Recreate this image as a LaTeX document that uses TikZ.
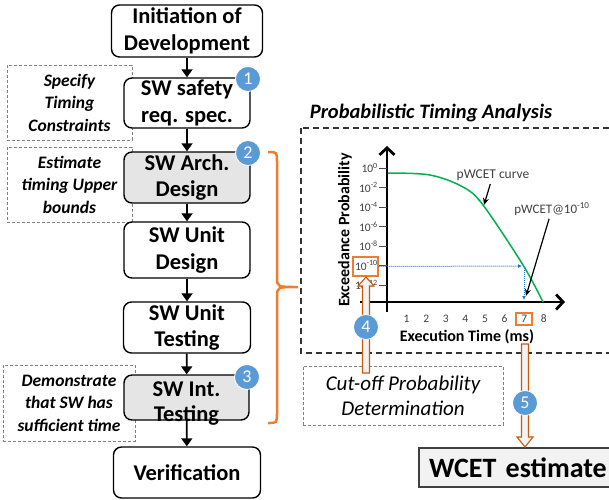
\documentclass[tikz,border=0pt]{standalone}
\usepackage{fontspec}
\setmainfont{Carlito}
\usetikzlibrary{arrows.meta}

\definecolor{badgeblue}{RGB}{91,155,213}
\definecolor{braceorange}{RGB}{237,125,49}
\definecolor{darkorange}{RGB}{197,90,17}
\definecolor{curvegreen}{RGB}{0,176,80}
\definecolor{dotblue}{RGB}{46,117,182}

\tikzset{
    phase/.style={draw=black, line width=1.4pt, rounded corners=8pt, fill=white, align=center, inner sep=0pt,
        font=\bfseries\fontsize{22.5}{26.5}\selectfont},
    phasegray/.style={phase, fill=black!10},
    task/.style={draw=gray, densely dashed, line width=0.7pt, align=center, inner sep=0pt,
        font=\bfseries\itshape\fontsize{17.5}{22.5}\selectfont},
    badge/.style={circle, fill=badgeblue, draw=white, line width=0.8pt, minimum size=25pt, inner sep=0pt,
        text=white, font=\fontsize{18}{18}\selectfont},
    flow/.style={-{Triangle[length=8pt,width=11pt]}, line width=1.8pt},
    ticklab/.style={font=\fontsize{11.5}{12}\selectfont, text=black!75, inner sep=1pt},
    hilite/.style={draw=braceorange, line width=1.2pt, inner sep=0pt},
    blockarrow/.style={draw=darkorange, fill=black!5, line width=1.1pt},
    pointer/.style={-{Stealth[length=7pt,width=6pt]}, line width=1.2pt},
    axis/.style={line width=2.8pt, -{Straight Barb[length=7pt,width=15pt]}},
}

\begin{document}
\begin{tikzpicture}[x=1pt, y=-1pt]

    % fix the frame
    \useasboundingbox (0,0) rectangle (609,499);
    \clip (0,0) rectangle (609,499);

    %% development flow
    \begin{scope}
        %%%%%%%%%%%%%%%%%%%%%%%%%%
        % timing tasks
        %%%%%%%%%%%%%%%%%%%%%%%%%%
        \node [task, minimum width=125pt, minimum height=75pt] (spec) at (69.5,102.5) {Specify\\Timing\\Constraints};
        \node [task, minimum width=125pt, minimum height=75pt] (est) at (69.5,184.5) {Estimate\\timing Upper\\bounds};
        \node [task, minimum width=132pt, minimum height=76pt] (demo) at (69,403) {Demonstrate\\that SW has\\sufficient time};

        %%%%%%%%%%%%%%%%%%%%%%%%%%
        % phases
        %%%%%%%%%%%%%%%%%%%%%%%%%%
        \node [phase, minimum width=151pt, minimum height=52pt] (init) at (187,31) {Initiation of\\Development};
        \node [phase, minimum width=126pt, minimum height=50pt] (req) at (187,103) {SW safety\\req. spec.};
        \node [phasegray, minimum width=126pt, minimum height=51pt] (arch) at (187,177.5) {SW Arch.\\Design};
        \node [phase, minimum width=126pt, minimum height=56pt] (udes) at (187,250) {SW Unit\\Design};
        \node [phase, minimum width=127pt, minimum height=51pt] (utest) at (187,327.5) {SW Unit\\Testing};
        \node [phasegray, minimum width=125pt, minimum height=45pt] (itest) at (186.5,397.5) {};
        \node [font=\bfseries\fontsize{22.5}{25}\selectfont, align=center, inner sep=0pt] (itestlab) at (186.5,404) {SW Int.\\Testing};
        \node [phase, minimum width=147pt, minimum height=51pt] (verif) at (187,472.5) {Verification};

        \draw [flow] (init) -- (req);
        \draw [flow] (req) -- (arch);
        \draw [flow] (arch) -- (udes);
        \draw [flow] (udes) -- (utest);
        \draw [flow] (utest) -- (itest);
        \draw [flow] (itest) -- (verif);

        % numbered steps
        \node [badge] (b1) at (248,79) {1};
        \node [badge] (b2) at (248,153) {2};
        \node [badge] (b3) at (247,377) {3};

        % brace
        \draw [braceorange, line width=2.5pt] (268,152) .. controls (277,152) .. (277,162) -- (277,277)
            .. controls (277,287) .. (298,287) .. controls (277,287) .. (277,297) -- (277,413)
            .. controls (277,423) .. (268,423);
    \end{scope}

    %% probabilistic analysis
    \begin{scope}
        \draw [dashed, dash pattern=on 6pt off 4pt, line width=1.2pt, black!80] (301,128) rectangle (620,353);
        \node [font=\bfseries\itshape\fontsize{20.5}{22}\selectfont] (title) at (431,113) {Probabilistic Timing Analysis};

        % draw axis
        \draw [axis] (387,312) -- (387,146);
        \draw [axis] (360,302) -- (565,302);

        \foreach \k/\e in {0/0,1/-2,2/-4,3/-6,4/-8,5/-10,6/-12} {
            \draw [line width=1pt, black!70] (379,168+19.5*\k) -- (387,168+19.5*\k);
            \node [ticklab, anchor=east] at (379,168+19.5*\k) {10\textsuperscript{\e}};
        }
        \foreach \i in {1,...,8} {
            \node [ticklab] at (387+19.6*\i,319) {\i};
        }
        \node [rotate=90, font=\bfseries\fontsize{16}{17}\selectfont] (ylab) at (345,230) {Exceedance Probability};
        \node [font=\bfseries\fontsize{16}{17}\selectfont] (xlab) at (467,337) {Execution Time (ms)};

        % pWCET curve
        \draw [curvegreen, line width=1.5pt] plot [smooth, tension=0.55] coordinates
            {(388,173) (430,175) (463,187) (483,205) (523,265) (543,302)};

        % cut-off marks
        \node [hilite, minimum width=25pt, minimum height=19pt] (cutbox) at (365.5,266.5) {};
        \node [hilite, minimum width=16pt, minimum height=12pt] (sevenbox) at (524,319) {};
        \coordinate (hit) at (522,266);
        \coordinate (hitdown) at (524,300);
        \draw [dotblue, densely dotted, line width=1pt, -{Latex[length=4pt,width=4pt]}] (cutbox.east) -- (hit);
        \draw [dotblue, densely dotted, line width=1pt, -{Latex[length=4pt,width=4pt]}] (524,268) -- (hitdown);

        % labels
        \node [font=\fontsize{13.5}{14}\selectfont, text=black!75] (curvelab) at (493,175) {pWCET curve};
        \node [font=\fontsize{13}{14}\selectfont, text=black!75] (wcetlab) at (552,209) {pWCET@10\textsuperscript{-10}};
        \coordinate (knee) at (484,205);
        \coordinate (wcetpt) at (526,296);
        \draw [pointer] (curvelab) -- (knee);
        \draw [pointer] (wcetlab) -- (wcetpt);
    \end{scope}

    %% cut-off and estimate
    \begin{scope}
        \node [draw=gray, densely dashed, line width=0.7pt, align=center, inner sep=0pt,
            minimum width=200pt, minimum height=59pt, font=\itshape\fontsize{21}{25}\selectfont]
            (cutoff) at (403,395.5) {Cut-off Probability\\Determination};
        \node [draw=black!75, fill=black!5, line width=1.3pt, minimum width=200pt, minimum height=39pt,
            text width=180pt, inner xsep=10pt, align=left, font=\bfseries\fontsize{28}{30}\selectfont]
            (wcet) at (519,467.5) {WCET estimate};

        % block arrows
        \draw [blockarrow] (362.5,373) -- (362.5,286) -- (358,286) -- (366,277) -- (374,286)
            -- (369.5,286) -- (369.5,373) -- cycle;
        \draw [blockarrow] (521.5,344) -- (521.5,437) -- (517,437) -- (525,447) -- (533,437)
            -- (528.5,437) -- (528.5,344) -- cycle;
        \node [badge] (b4) at (366,327) {4};
        \node [badge] (b5) at (525,403) {5};
    \end{scope}
\end{tikzpicture}
\end{document}
